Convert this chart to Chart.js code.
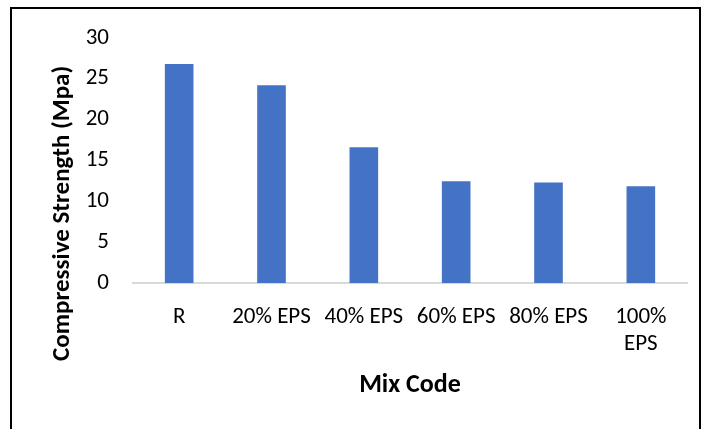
<!DOCTYPE html>
<html>
<head>
<meta charset="utf-8">
<script src="https://cdn.jsdelivr.net/npm/chart.js@4"></script>
<style>
  html, body { margin: 0; padding: 0; background: #fff; overflow: hidden; }
  #frame { position: absolute; left: 10px; top: 7px; width: 691px; height: 440px; border: 2px solid #000; box-sizing: border-box; }
  #wrap { position: absolute; left: 0; top: 0; width: 705px; height: 429px; }
</style>
</head>
<body>
<div id="frame"></div>
<div id="wrap"><canvas id="strengthChart" width="705" height="429"></canvas></div>
<script>
const mixCodes = ["R", "20% EPS", "40% EPS", "60% EPS", "80% EPS", ["100%", "EPS"]];
const strength = [26.8, 24.2, 16.6, 12.45, 12.3, 11.85];
const barColor = "#4472C4";
const yTitle = "Compressive Strength (Mpa)";

const fontFamily = "Carlito, Lato, 'Open Sans', sans-serif";

// y title centred on the whole plot block (bars + category labels + x title), like Excel
const yTitlePlugin = {
  id: 'yTitle',
  afterDraw(chart) {
    const c = chart.ctx;
    const y = chart.scales.y;
    const x = chart.scales.x;
    c.save();
    c.font = "bold 25px " + fontFamily;
    c.fillStyle = '#000';
    c.textAlign = 'center';
    c.textBaseline = 'middle';
    c.translate(y.left + 15, (chart.chartArea.top + x.bottom - 12) / 2);
    c.rotate(-Math.PI / 2);
    c.fillText(yTitle, 0, 0);
    c.restore();
  }
};

var ctx = document.getElementById('strengthChart').getContext('2d');
new Chart(ctx, {
  type: 'bar',
  data: {
    labels: mixCodes,
    datasets: [{
      data: strength,
      backgroundColor: barColor,
      borderWidth: 0,
      categoryPercentage: 1,
      barPercentage: 0.31
    }]
  },
  options: {
    responsive: false,
    animation: false,
    layout: { padding: { left: 48, top: 35, right: 18, bottom: 28 } },
    plugins: {
      legend: { display: false },
      tooltip: { enabled: false }
    },
    scales: {
      x: {
        afterFit: function (scale) { scale.height = 118; },
        grid: { display: false, drawTicks: false },
        border: { display: true, color: '#D9D9D9', width: 2 },
        ticks: {
          color: '#000',
          padding: 20,
          maxRotation: 0,
          autoSkip: false,
          font: { family: fontFamily, size: 23, lineHeight: 1.2 }
        },
        title: {
          display: true,
          text: 'Mix Code',
          color: '#000',
          padding: { top: 0, bottom: 0 },
          font: { family: fontFamily, size: 26, weight: 'bold', lineHeight: 1.2 }
        }
      },
      y: {
        min: 0,
        max: 30,
        afterFit: function (scale) { scale.width = 85; },
        grid: { display: false, drawTicks: false },
        border: { display: false },
        ticks: {
          stepSize: 5,
          color: '#000',
          padding: 24,
          font: { family: fontFamily, size: 23 }
        },
        title: { display: false }
      }
    }
  },
  plugins: [yTitlePlugin]
});
</script>
</body>
</html>
